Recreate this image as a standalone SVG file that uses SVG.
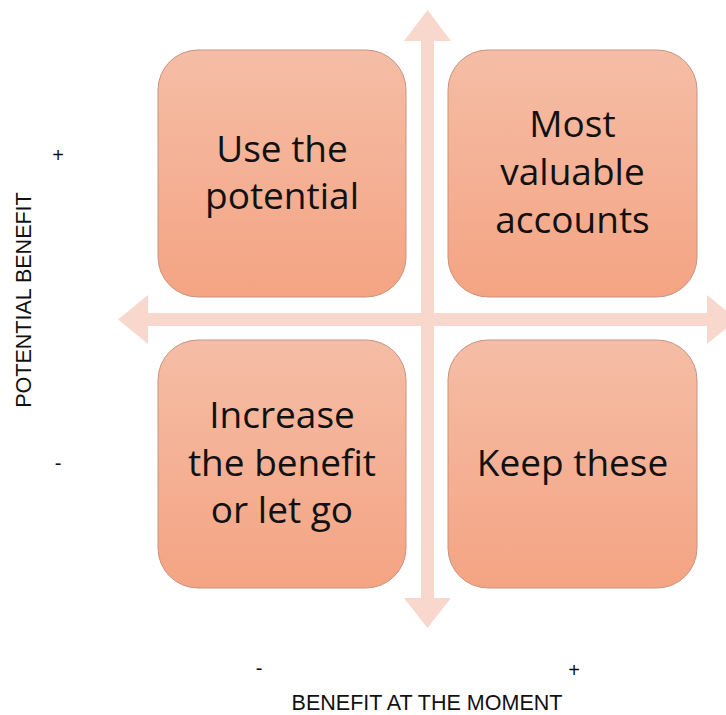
<svg xmlns="http://www.w3.org/2000/svg" width="726" height="715" viewBox="0 0 726 715">
  <style>
    .box { fill: url(#boxFill); stroke: #C7937F; stroke-width: 1; }
    .label { font-family: "Open Sans", Lato, sans-serif; font-size: 37px; font-weight: 500; fill: #111; text-anchor: middle; }
    .axis-text { font-family: "Liberation Sans", Arial, sans-serif; font-size: 21.5px; fill: #111; text-anchor: middle; }
    .sign { font-family: "Liberation Sans", Arial, sans-serif; font-size: 20px; fill: #111; text-anchor: middle; }
    .axis { fill: #F8D8CC; }
  </style>
  <defs>
    <linearGradient id="boxFill" x1="0" y1="0" x2="0" y2="1">
      <stop offset="0" stop-color="#F5BDA6"/>
      <stop offset="1" stop-color="#F4A483"/>
    </linearGradient>
  </defs>
  <rect width="726" height="715" fill="#FFFFFF"/>

  <!-- quadrant axes -->
  <g id="connectors">
    <path class="axis" d="M427.5,10 L451,41 L434,41 L434,598 L451,598 L427.5,628 L404,598 L421,598 L421,41 L404,41 Z"/>
    <path class="axis" d="M118,319.5 L148,295 L148,313 L707,313 L707,295 L737,319.5 L707,344 L707,326 L148,326 L148,344 Z"/>
  </g>

  <g id="node-use-potential">
    <rect class="box" x="158" y="50" width="248" height="247" rx="40" ry="40"/>
    <text class="label" x="282" y="162">Use the</text>
    <text class="label" x="282" y="209">potential</text>
  </g>

  <g id="node-most-valuable">
    <rect class="box" x="448" y="50" width="249" height="247" rx="40" ry="40"/>
    <text class="label" x="572.5" y="137">Most</text>
    <text class="label" x="572.5" y="185">valuable</text>
    <text class="label" x="572.5" y="233">accounts</text>
  </g>

  <g id="node-increase">
    <rect class="box" x="158" y="340" width="248" height="248" rx="40" ry="40"/>
    <text class="label" x="282" y="428">Increase</text>
    <text class="label" x="282" y="476">the benefit</text>
    <text class="label" x="282" y="523">or let go</text>
  </g>

  <g id="node-keep">
    <rect class="box" x="448" y="340" width="249" height="248" rx="40" ry="40"/>
    <text class="label" x="572.5" y="476">Keep these</text>
  </g>

  <!-- axis captions -->
  <g id="axis-labels">
    <text class="axis-text" transform="translate(31,300) rotate(-90)">POTENTIAL BENEFIT</text>
    <text class="sign" x="58" y="162">+</text>
    <text class="sign" x="58" y="470">-</text>
    <text class="axis-text" x="427" y="710">BENEFIT AT THE MOMENT</text>
    <text class="sign" x="259" y="675">-</text>
    <text class="sign" x="574" y="677">+</text>
  </g>
</svg>
